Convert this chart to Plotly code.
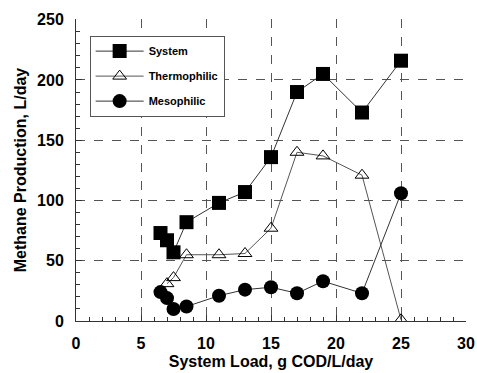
import plotly.graph_objects as go

load = [6.5, 7, 7.5, 8.5, 11, 13, 15, 17, 19, 22, 25]
system = [73, 67, 57, 82, 98, 107, 136, 190, 205, 173, 216]
thermo_x = [7, 7.5, 8.5, 11, 13, 15, 17, 19, 22, 25]
thermo = [31, 36, 55, 55, 56, 77, 140, 137, 121, 1]
meso = [24, 19, 10, 12, 21, 26, 28, 23, 33, 23, 106]

x_ticks = [0, 5, 10, 15, 20, 25, 30]
y_ticks = [0, 50, 100, 150, 200, 250]

fig = go.Figure()
fig.add_trace(go.Scatter(x=load, y=system, name="<b>System</b>", mode="lines+markers",
                         legendgroup="a",
                         line=dict(color="#333", width=1),
                         marker=dict(symbol="square", size=14, color="black")))
fig.add_trace(go.Scatter(x=thermo_x, y=thermo, name="<b>Thermophilic</b>", mode="lines+markers",
                         legendgroup="b",
                         line=dict(color="#555", width=1),
                         marker=dict(symbol="triangle-up-open", size=12, color="black",
                                     line=dict(width=1))))
fig.add_trace(go.Scatter(x=load, y=meso, name="<b>Mesophilic</b>", mode="lines+markers",
                         legendgroup="c",
                         line=dict(color="#333", width=1),
                         marker=dict(symbol="circle", size=14, color="black")))

tick_font = dict(family="Liberation Sans, Arial", size=16, color="black", weight="bold")
title_font = dict(family="Liberation Sans, Arial", size=16, color="black", weight="bold")
fig.update_layout(
    width=477, height=373,
    margin=dict(l=76, r=11, t=19, b=52),
    paper_bgcolor="white", plot_bgcolor="white",
    showlegend=True,
    legend=dict(x=0.035, y=0.945, xanchor="left", yanchor="top",
                bgcolor="white", bordercolor="#555", borderwidth=1,
                font=dict(family="Liberation Sans, Arial", size=11, color="black"),
                tracegroupgap=6, itemwidth=48),
    xaxis=dict(range=[0, 30], tickvals=x_ticks, ticktext=[str(v) for v in x_ticks],
               automargin=False, ticklabeloverflow="allow",
               showgrid=True, gridcolor="#555", griddash="dash", gridwidth=1,
               zeroline=False, showline=True, linecolor="#333", linewidth=1,
               ticks="inside", ticklen=6, tickcolor="#333", ticklabelstandoff=8,
               minor=dict(dtick=1, ticks="inside", ticklen=4, tickcolor="#333", showgrid=False),
               title=dict(text="System Load, g COD/L/day", standoff=4, font=title_font),
               tickfont=tick_font),
    yaxis=dict(range=[0, 250.6], tickvals=y_ticks, ticktext=[str(v) for v in y_ticks],
               automargin=False,
               showgrid=True, gridcolor="#555", griddash="dash", gridwidth=1,
               zeroline=False, showline=True, linecolor="#333", linewidth=1,
               ticks="inside", ticklen=6, tickcolor="#333", ticklabelstandoff=8,
               minor=dict(dtick=10, ticks="inside", ticklen=4, tickcolor="#333", showgrid=False),
               title=dict(text="Methane Production, L/day", standoff=6, font=title_font),
               tickfont=tick_font),
)

fig.write_html("out.html", config={"displayModeBar": False},
               post_script="document.body.style.margin='0';document.body.style.overflow='hidden';")
